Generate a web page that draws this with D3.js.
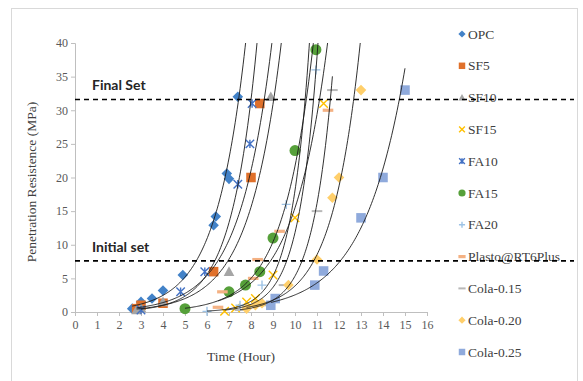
<!DOCTYPE html>
<html><head><meta charset="utf-8">
<script src="https://cdn.jsdelivr.net/npm/d3@7"></script>
<style>body{margin:0;background:#fff}svg{display:block}</style>
</head><body>
<script>
// ---- data ----
const seriesNames = ["OPC","SF5","SF10","SF15","FA10","FA15","FA20","Plasto@RT6Plus","Cola-0.15","Cola-0.20","Cola-0.25"];
const OPC   = [[2.6,0.5],[3,1.5],[3.5,2],[4,3.2],[4.9,5.5],[6.3,12.9],[6.4,14.2],[6.9,20.6],[7,19.8],[7.4,32]];
const SF5   = [[2.8,0.5],[3,1],[4,1.3],[6.3,6],[8,20],[8.4,31]];
const SF10  = [[2.8,0.3],[3,0.6],[4,1.5],[7,6],[8.9,32]];
const SF15  = [[6.8,0.1],[7.3,0.6],[7.8,1.5],[8.2,2],[9,5.5],[10,14],[11.3,31]];
const FA10  = [[3,0.3],[4.8,3],[5.9,6],[7.4,19],[7.95,25],[8.05,31]];
const FA15  = [[5,0.5],[7,3],[7.75,4],[8.4,6],[9,11],[10,24],[10.95,39]];
const FA20  = [[6,0.1],[7.5,1],[8.5,4],[9.6,16],[10.95,36]];
const Plasto= [[6.5,0.7],[6.7,3],[8.1,5],[8.3,7.8],[9.3,12],[11.5,30]];
const Cola15= [[7.5,0.3],[8.5,1],[9.5,4],[11,15],[11.7,33]];
const Cola20= [[7.8,0.5],[8.2,1],[8.5,1.3],[9.7,4],[11,7.8],[11.7,17],[12,20],[13,33]];
const Cola25= [[8.9,1],[9.1,2],[10.9,4],[11.3,6.1],[13,14],[14,20],[15,33]];
const seriesData = [OPC,SF5,SF10,SF15,FA10,FA15,FA20,Plasto,Cola15,Cola20,Cola25];
const trendForward = [0.6,0.6,0.6,0.3,0.6,0.3,0.3,0,0,0,0];
const xTicks = d3.range(0,17,1);
const yTicks = [0,5,10,15,20,25,30,35,40];
const setLines = [{label:"Final Set", value:31.6},{label:"Initial set", value:7.6}];

// ---- styles ----
const colors = ["#4282C8","#E0702A","#A5A5A5","#FFC000","#4472C4","#56A03A","#9DC3E6","#F4B183","#B8B8B8","#FFCF6B","#8FAADC"];
const shapes = ["diamond","square","triangle","x","star","circle","plus","dashThick","dash","diamond","square"];

const W=583,H=381;
const svg=d3.select("body").append("svg").attr("width",W).attr("height",H);
svg.append("rect").attr("x",11.5).attr("y",8.5).attr("width",566).attr("height",380)
  .attr("fill","#fff").attr("stroke","#D9D9D9").attr("stroke-width",1);

const x=d3.scaleLinear().domain([0,16]).range([75,427]);
const y=d3.scaleLinear().domain([0,40]).range([312,43]);

// axes
const gx=svg.append("g").attr("transform","translate(0,312)")
  .call(d3.axisBottom(x).tickValues(xTicks).tickSize(4).tickPadding(4).tickFormat(d3.format("d")));
const gy=svg.append("g").attr("transform","translate(75,0)")
  .call(d3.axisLeft(y).tickValues(yTicks).tickSize(4).tickPadding(3).tickFormat(d3.format("d")));
[gx,gy].forEach(g=>{
  g.select(".domain").attr("stroke","#BFBFBF");
  g.selectAll(".tick line").attr("stroke","#BFBFBF");
  g.selectAll(".tick text").attr("fill","#595959").style("font-family","'Liberation Serif',serif").style("font-size","12px");
});

svg.append("text").attr("x",241).attr("y",361).attr("text-anchor","middle")
  .style("font-family","'Liberation Serif',serif").style("font-size","13.5px").attr("fill","#404040").text("Time (Hour)");
svg.append("text").attr("transform","translate(36,182) rotate(-90)").attr("text-anchor","middle")
  .style("font-family","'Liberation Serif',serif").style("font-size","13.5px").attr("fill","#404040").text("Penetration Resistence (MPa)");

function markerPath(shape,s){
  const p=d3.path();
  switch(shape){
    case "diamond": p.moveTo(0,-s);p.lineTo(s,0);p.lineTo(0,s);p.lineTo(-s,0);p.closePath();break;
    case "square": p.rect(-s*0.9,-s*0.9,s*1.8,s*1.8);break;
    case "triangle": p.moveTo(0,-s);p.lineTo(s,s*0.8);p.lineTo(-s,s*0.8);p.closePath();break;
    case "circle": p.arc(0,0,s,0,2*Math.PI);break;
    case "x": p.moveTo(-s*0.8,-s*0.8);p.lineTo(s*0.8,s*0.8);p.moveTo(s*0.8,-s*0.8);p.lineTo(-s*0.8,s*0.8);break;
    case "star": p.moveTo(-s*0.8,-s*0.8);p.lineTo(s*0.8,s*0.8);p.moveTo(s*0.8,-s*0.8);p.lineTo(-s*0.8,s*0.8);p.moveTo(0,-s*0.8);p.lineTo(0,s*0.8);break;
    case "plus": p.moveTo(-s*0.85,0);p.lineTo(s*0.85,0);p.moveTo(0,-s*0.85);p.lineTo(0,s*0.85);break;
    case "dashThick": p.rect(-s,-1.6,2*s,3.2);break;
    case "dash": p.rect(-s,-1,2*s,2);break;
  }
  return p.toString();
}
function styleMarker(sel,i){
  const sh=shapes[i];
  if(["x","star","plus"].includes(sh)) sel.attr("fill","none").attr("stroke",colors[i]).attr("stroke-width",1.4);
  else sel.attr("fill",colors[i]).attr("stroke","none");
}

// clip for plot area
svg.append("clipPath").attr("id","plot").append("rect").attr("x",75).attr("y",43).attr("width",352).attr("height",269);

// markers
seriesData.forEach((data,i)=>{
  svg.append("g").selectAll("path").data(data).join("path")
    .attr("transform",d=>`translate(${x(d[0])},${y(d[1])})`)
    .attr("d",markerPath(shapes[i],shapes[i]==="circle"?5.5:5.3))
    .call(styleMarker,i);
});

// exponential trendlines (least squares on ln y)
const line=d3.line().x(d=>x(d[0])).y(d=>y(d[1]));
const tg=svg.append("g").attr("clip-path","url(#plot)");
seriesData.forEach((data,i)=>{
  const xs=data.map(d=>d[0]), ls=data.map(d=>Math.log(d[1]));
  const mx=d3.mean(xs), my=d3.mean(ls);
  const b=d3.sum(xs,(v,k)=>(v-mx)*(ls[k]-my))/d3.sum(xs,v=>(v-mx)*(v-mx));
  const a=my-b*mx;
  const x0=d3.min(xs), x1=d3.max(xs)+trendForward[i];
  const pts=d3.range(0,121).map(k=>{const t=x0+(x1-x0)*k/120;return [t,Math.exp(a+b*t)];});
  tg.append("path").attr("d",line(pts)).attr("fill","none").attr("stroke","#1a1a1a").attr("stroke-width",0.9);
});

// legend
const lg=svg.append("g");
seriesNames.forEach((n,i)=>{
  const ly=34+i*31.8;
  lg.append("path").attr("transform",`translate(462,${ly})`).attr("d",markerPath(shapes[i],3.6)).call(styleMarker,i);
  lg.append("text").attr("x",468).attr("y",ly+4.5)
    .style("font-family","'Liberation Serif',serif").style("font-size","13.5px").attr("fill","#404040").text(n);
});

// set lines
setLines.forEach(s=>{
  svg.append("line").attr("x1",75).attr("x2",574).attr("y1",y(s.value)).attr("y2",y(s.value))
    .attr("stroke","#000").attr("stroke-width",1.6).attr("stroke-dasharray","5,4");
  svg.append("text").attr("x",92).attr("y",y(s.value)-9)
    .style("font-family","Lato,'Open Sans',sans-serif").style("font-weight","bold").style("font-size","14px")
    .attr("fill","#262626").text(s.label);
});
</script>
</body></html>
